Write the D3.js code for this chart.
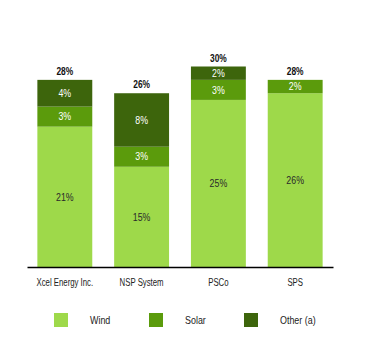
<!DOCTYPE html>
<html><head><meta charset="utf-8">
<script src="https://cdn.jsdelivr.net/npm/d3@7"></script>
<style>body{margin:0;background:#fff}svg{display:block}text{font-family:"Liberation Sans",Arial,sans-serif}</style>
</head><body>
<script>
const categories = ["Xcel Energy Inc.", "NSP System", "PSCo", "SPS"];
const seriesNames = ["Wind", "Solar", "Other (a)"];
const wind = [21, 15, 25, 26];
const solar = [3, 3, 3, 2];
const other = [4, 8, 2, 0];
const totals = [28, 26, 30, 28];
const colors = ["#9ed94a", "#5b9b0c", "#3d650c"];

const W = 366, H = 356;
const svg = d3.select("body").append("svg").attr("width", W).attr("height", H);

const x = d3.scaleBand().domain(categories).range([27, 333]).paddingInner(0.285).paddingOuter(0.135);
const y = d3.scaleLinear().domain([0, 30]).range([267, 66.5]);

const data = categories.map((c, i) => ({cat: c, Wind: wind[i], Solar: solar[i], "Other (a)": other[i], total: totals[i]}));
const stacked = d3.stack().keys(seriesNames)(data);

const SX = 0.84;
const g = svg.append("g");
stacked.forEach((s, si) => {
  const grp = g.append("g").attr("fill", colors[si]);
  grp.selectAll("rect").data(s).join("rect")
    .attr("x", d => x(d.data.cat))
    .attr("width", x.bandwidth())
    .attr("y", d => y(d[1]))
    .attr("height", d => y(d[0]) - y(d[1]));
  g.append("g").selectAll("text").data(s.filter(d => d[1] - d[0] > 0)).join("text")
    .attr("transform", d => `translate(${x(d.data.cat) + x.bandwidth() / 2},${(y(d[0]) + y(d[1])) / 2}) scale(${SX},1)`)
    .attr("dy", "0.35em")
    .attr("text-anchor", "middle")
    .attr("font-size", 10.5)
    .attr("fill", si === 0 ? "#2a2a2a" : "#ffffff")
    .text(d => (d[1] - d[0]) + "%");
});

// totals
g.append("g").selectAll("text").data(data).join("text")
  .attr("transform", d => `translate(${x(d.cat) + x.bandwidth() / 2},${y(d.total) - 5}) scale(0.8,1)`)
  .attr("text-anchor", "middle")
  .attr("font-size", 10.5)
  .attr("font-weight", "bold")
  .attr("fill", "#111")
  .text(d => d.total + "%");

// axis
const ax = svg.append("g").attr("transform", "translate(0,267)")
  .call(d3.axisBottom(x).tickSize(0).tickPadding(12));
ax.select(".domain").attr("stroke", "#000").attr("stroke-width", 1.5);
ax.selectAll("text").attr("font-size", 10).attr("fill", "#222")
  .attr("transform", "scale(0.78,1)")
  .style("font-family", '"Liberation Sans",Arial,sans-serif');
ax.selectAll(".tick").each(function() {
  const t = d3.select(this);
  const tx = t.attr("transform");
  const m = /translate\(([^,]+),([^)]+)\)/.exec(tx);
  t.attr("transform", `translate(${m[1]},${m[2]})`);
});

// legend
const legX = [54, 149, 244];
const leg = svg.append("g");
seriesNames.forEach((n, i) => {
  leg.append("rect").attr("x", legX[i]).attr("y", 313).attr("width", 14).attr("height", 14).attr("fill", colors[i]);
  leg.append("text").attr("transform", `translate(${legX[i] + 36},320) scale(0.85,1)`).attr("dy", "0.35em")
    .attr("font-size", 10.5).attr("fill", "#222").text(n);
});
</script>
</body></html>
